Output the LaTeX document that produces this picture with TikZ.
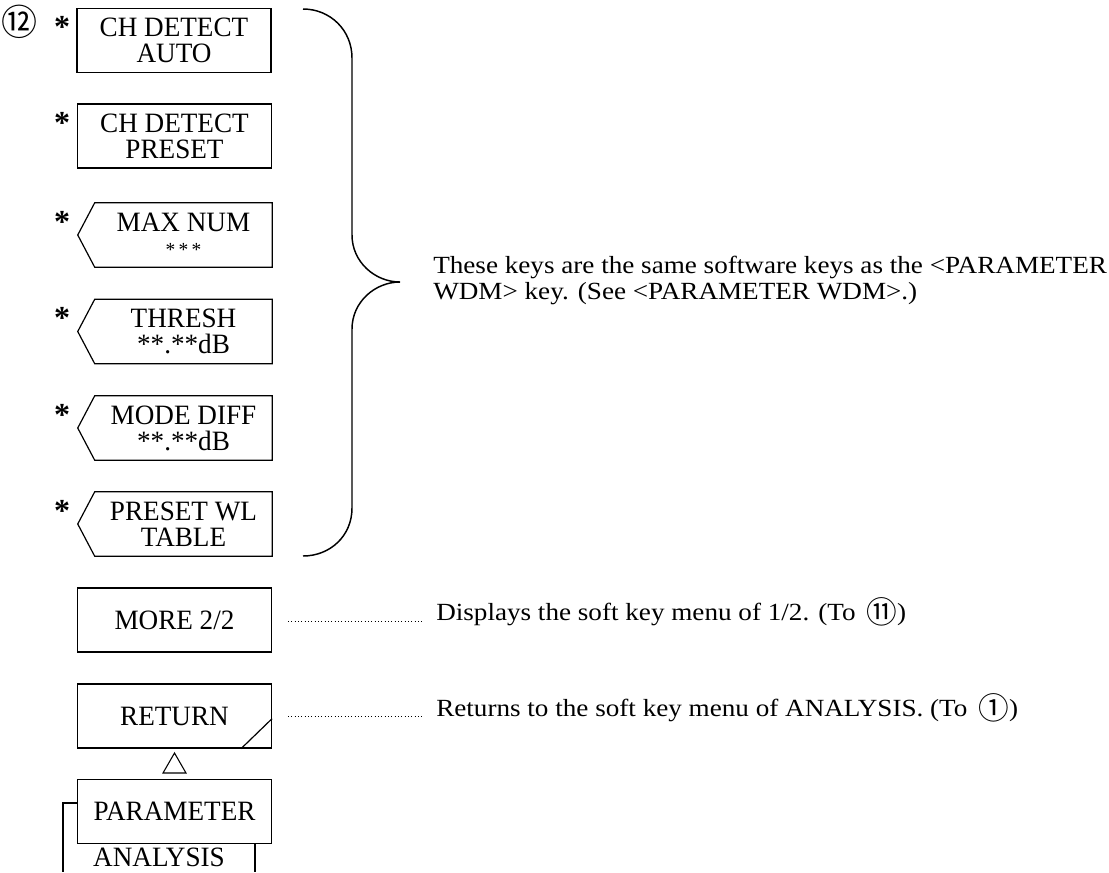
\documentclass[tikz,border=0pt]{standalone}
\usepackage{fontspec}
\setmainfont{Liberation Serif}
\newfontfamily\descfont{Liberation Serif}[FakeStretch=1.1]
\newfontfamily\keyfam{Liberation Serif}[FakeStretch=0.97]
\newfontfamily\circfont{Noto Sans CJK JP}
\newcommand\circd[1]{\raisebox{-2.5pt}{\circfont\fontsize{23}{23}\selectfont #1}}
\begin{document}
\begin{tikzpicture}[x=0.75pt,y=-0.75pt,
  keyfont/.style={font=\keyfam\fontsize{21}{19.5}\selectfont},
  rectkey/.style={draw,line width=0.9pt,minimum width=145.5pt,minimum height=48pt,inner sep=0pt,align=center,keyfont},
  pentkey/.style={minimum width=132.75pt,minimum height=48pt,inner sep=0pt,align=center,keyfont},
  star/.style={font=\bfseries\fontsize{24}{24}\selectfont,inner sep=0pt},
  desc/.style={font=\descfont\fontsize{18.5}{19.5}\selectfont,inner sep=0pt},
  dotline/.style={dotted,line width=0.5pt},
  outline/.style={line width=0.9pt}]
\useasboundingbox (0,0) rectangle (1109,872);

% circled number
\node[font=\circfont\fontsize{27}{27}\selectfont,inner sep=0pt] (num) at (20,22) {⑫};

% rectangular keys
\node[rectkey] (auto) at (174,40.5) {CH DETECT\\AUTO};
\node[rectkey] (preset) at (174.5,136) {CH DETECT\\PRESET};

% pentagon keys
\node[pentkey] (max) at (183.5,235) {MAX NUM\\[-1pt]{\fontsize{15}{15}\selectfont *\,*\,*}};
\node[pentkey] (thr) at (183.5,331.5) {THRESH\\**.**dB};
\node[pentkey] (mode) at (183.5,428) {MODE DIFF\\**.**dB};
\node[pentkey] (wl) at (183.5,524) {PRESET WL\\TABLE};
\foreach \n in {max,thr,mode,wl}{
  \draw[outline] (\n.north west) -- (\n.north east) -- (\n.south east) -- (\n.south west) -- ([xshift=-12.75pt]\n.west) -- cycle;
}

% asterisks
\foreach \n/\y in {auto/8,preset/104,max/203,thr/299,mode/396,wl/492}{
  \node[star] (s\n) at (62,\y+19) {*};
}

% brace
\coordinate (btop) at (303,9);
\coordinate (btip) at (400,282);
\coordinate (bbot) at (303,556);
\draw[line width=1.1pt] (btop) .. controls (330,9) and (352,30) .. (352,58) -- (352,235)
  .. controls (352,262) and (375,282) .. (btip)
  .. controls (375,282) and (352,302) .. (352,329) -- (352,508)
  .. controls (352,536) and (330,556) .. (bbot);
\node[desc,anchor=base west] (t1) at (433,273) {These keys are the same software keys as the <PARAMETER};
\node[desc,anchor=base west] (t1b) at (433,299) {WDM> key. (See <PARAMETER WDM>.)};

% more / return
\node[rectkey] (more) at (174.5,620) {MORE 2/2};
\node[rectkey] (ret) at (174.5,716) {RETURN};
\draw[outline] ([xshift=-23.25pt]ret.south east) -- ([yshift=22.5pt]ret.south east);

\node[desc,anchor=base west] (t2) at (436,620) {Displays the soft key menu of 1/2. (To \,\circd{⑪})};
\node[desc,anchor=base west] (t3) at (436,716) {Returns to the soft key menu of ANALYSIS. (To \,\circd{①})};
\coordinate (d2a) at (288,621);
\coordinate (d2b) at (423,621);
\coordinate (d3a) at (288,716);
\coordinate (d3b) at (423,716);
\draw[dotline] (d2a) -- (d2b);
\draw[dotline] (d3a) -- (d3b);

% parameter analysis
\node[rectkey] (par) at (174.5,811.5) {PARAMETER};
\coordinate (tri) at (174.5,753);
\draw[line width=0.8pt] (tri) -- ++(-11.5,20) -- ++(23,0) -- cycle;
\node[keyfont,inner sep=0pt] (ana) at (159,857) {ANALYSIS};
\coordinate (lc) at (63,803);
\draw[line width=0.8pt] (par.west |- lc) -- (lc) -- (63,872);
\draw[line width=0.8pt] (255,843) -- (255,872);
\end{tikzpicture}
\end{document}
